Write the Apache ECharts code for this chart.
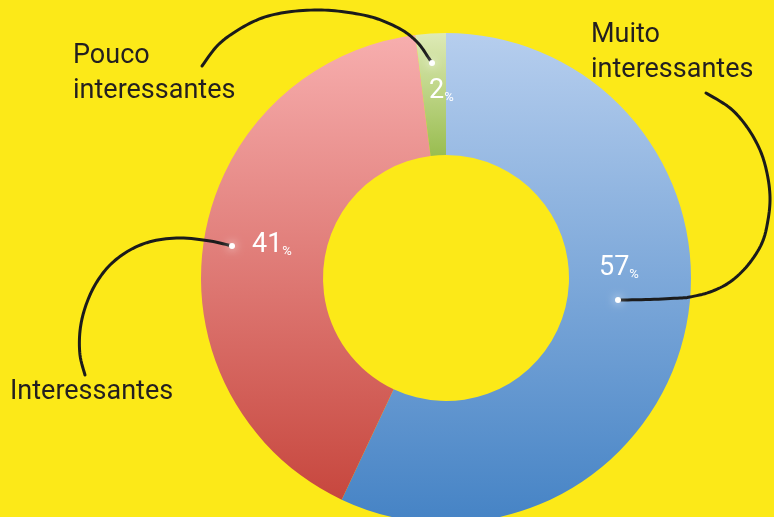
<!DOCTYPE html>
<html>
<head>
<meta charset="utf-8">
<script src="https://cdn.jsdelivr.net/npm/echarts@6/dist/echarts.min.js"></script>
<style>
html,body{margin:0;padding:0;background:#FCE918;}
#c{width:774px;height:517px;}
</style>
</head>
<body>
<div id="c"></div>
<script>
// ---- data ----
const categories = ['Muito interessantes', 'Interessantes', 'Pouco interessantes'];
const nameLabels = ['Muito\ninteressantes', 'Interessantes', 'Pouco\ninteressantes'];
const values = [57, 41, 2];
const percentLabels = ['57', '41', '2'];

// ---- layout / style ----
const CX = 446, CY = 278, R_IN = 123, R_OUT = 245;
const BG = '#FCE918';
const GRADIENTS = [
  ['#B6CEEE', '#4583C5'],
  ['#F7AEAE', '#C7473E'],
  ['#DEEAB6', '#99BD50']
];
// offsets from pie centre
const PCT_POS = [[153, -10], [-194, -33], [-17, -187]];   // left / middle of % label
const DOT_POS = [[172, 22], [-214, -32], [-14, -215]];
const NAME_POS = [[145, -260], [-436, 97], [-373, -239]];  // left / top of name label
const GUIDES = [
  [[172,22],[204,21.5],[234,20],[244,19],[264,14],[284,4],[302,-13],[316,-35],[322,-58],[324,-81],[321,-105],[314,-128],[301,-151],[284,-170],[260,-185]],
  [[-214,-32],[-236,-37],[-266,-40],[-293,-37],[-316,-28],[-336,-13],[-351,7],[-361,30],[-366,53],[-366,77],[-361,97]],
  [[-14,-215],[-18,-221],[-28,-235],[-44,-248],[-71,-260],[-101,-266],[-128,-268],[-158,-266],[-184,-260],[-208,-248],[-228,-233],[-244,-212]]
];

function densify(pts, steps) {
  const out = [];
  for (let i = 0; i < pts.length - 1; i++) {
    const p0 = pts[Math.max(i - 1, 0)], p1 = pts[i], p2 = pts[i + 1], p3 = pts[Math.min(i + 2, pts.length - 1)];
    for (let s = 0; s < steps; s++) {
      const t = s / steps, t2 = t * t, t3 = t2 * t;
      const f = (a, b, c, d) => 0.5 * ((2 * b) + (-a + c) * t + (2 * a - 5 * b + 4 * c - d) * t2 + (-a + 3 * b - 3 * c + d) * t3);
      out.push([CX + f(p0[0], p1[0], p2[0], p3[0]), CY + f(p0[1], p1[1], p2[1], p3[1])]);
    }
  }
  const last = pts[pts.length - 1];
  out.push([CX + last[0], CY + last[1]]);
  return out;
}

const sliceData = values.map((v, i) => ({
  name: categories[i],
  value: v,
  itemStyle: {
    color: {
      type: 'linear', x: 0, y: 0, x2: 0, y2: 1,
      colorStops: [{ offset: 0, color: GRADIENTS[i][0] }, { offset: 1, color: GRADIENTS[i][1] }]
    }
  }
}));
const ghostData = values.map((v, i) => ({ name: categories[i], value: v }));

const common = {
  type: 'pie',
  center: [CX, CY],
  radius: [R_IN, R_OUT],
  startAngle: 90,
  clockwise: true,
  avoidLabelOverlap: false,
  silent: true,
  animation: false,
  emphasis: { disabled: true }
};

const chart = echarts.init(document.getElementById('c'), null, { renderer: 'canvas' });
chart.setOption({
  backgroundColor: BG,
  animation: false,
  series: [
    Object.assign({}, common, {
      z: 2,
      data: sliceData,
      label: {
        show: true,
        position: 'inside',
        formatter: p => '{v|' + percentLabels[p.dataIndex] + '}{p|%}',
        rich: {
          v: { fontSize: 27, lineHeight: 27, color: '#ffffff', fontFamily: 'Roboto', verticalAlign: 'bottom' },
          p: { fontSize: 13, lineHeight: 23, color: '#ffffff', fontFamily: 'Roboto', verticalAlign: 'bottom' }
        }
      },
      labelLine: { show: false },
      labelLayout: p => ({
        x: CX + PCT_POS[p.dataIndex][0],
        y: CY + PCT_POS[p.dataIndex][1],
        align: 'left',
        verticalAlign: 'middle'
      })
    }),
    Object.assign({}, common, {
      z: 5,
      data: ghostData,
      itemStyle: { color: 'rgba(0,0,0,0)' },
      label: {
        show: true,
        position: 'outside',
        formatter: p => nameLabels[p.dataIndex],
        fontFamily: 'Roboto',
        fontSize: 27,
        lineHeight: 35,
        color: '#231F20'
      },
      labelLine: {
        show: true,
        smooth: false,
        lineStyle: { color: '#1b1b1b', width: 3, cap: 'round', join: 'round' }
      },
      labelLayout: p => ({
        x: CX + NAME_POS[p.dataIndex][0],
        y: CY + NAME_POS[p.dataIndex][1],
        align: 'left',
        verticalAlign: 'top',
        labelLinePoints: densify(GUIDES[p.dataIndex], 8)
      })
    }),
    Object.assign({}, common, {
      z: 6,
      data: ghostData,
      itemStyle: { color: 'rgba(0,0,0,0)' },
      label: {
        show: true,
        position: 'inside',
        formatter: '{d|}',
        rich: {
          d: { width: 6, height: 6, borderRadius: 3, backgroundColor: '#ffffff', shadowBlur: 10, shadowColor: '#ffffff' }
        }
      },
      labelLine: { show: false },
      labelLayout: p => ({
        x: CX + DOT_POS[p.dataIndex][0],
        y: CY + DOT_POS[p.dataIndex][1],
        align: 'center',
        verticalAlign: 'middle'
      })
    })
  ]
});
</script>
</body>
</html>
